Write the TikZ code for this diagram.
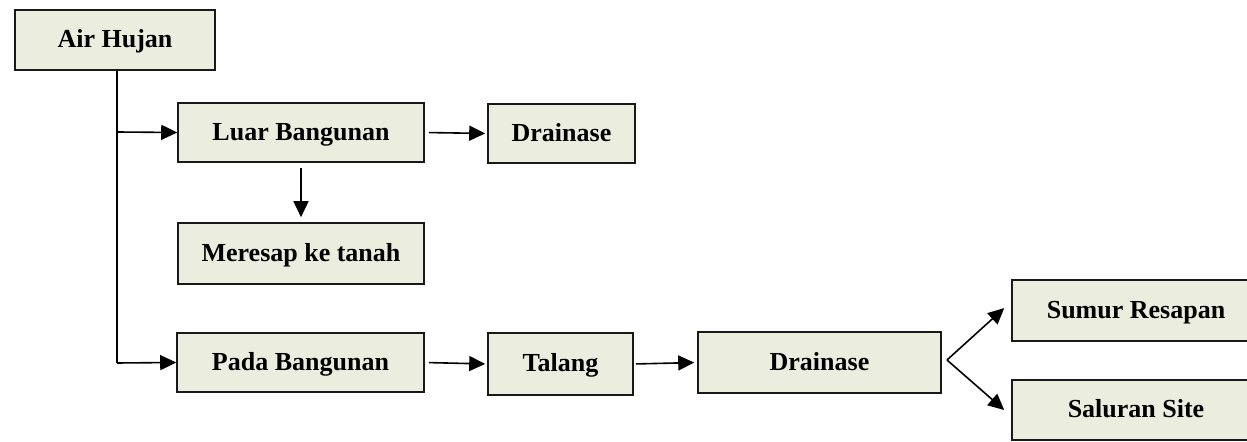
\documentclass[tikz,border=0pt]{standalone}
\usepackage{fontspec}
\setmainfont{Liberation Serif}
\usepackage{xcolor}
\usepackage{tikz}
\usetikzlibrary{arrows.meta}
\definecolor{isikotak}{RGB}{235,238,222}

\begin{document}
\begin{tikzpicture}[x=0.5pt,y=-0.5pt,
		kotak/.style={draw=black!90,fill=isikotak,line width=0.8pt,inner sep=0pt,
			text height=9pt,text depth=1pt,font=\bfseries\fontsize{13}{15}\selectfont},
		panah/.style={line width=0.8pt,-{Triangle[length=8pt,width=7.5pt]}}]
			\useasboundingbox (0,0) rectangle (1247,442);
			% Kotak
			\node[kotak,minimum width=100pt,minimum height=30pt] (hujan) at (115,40) {Air Hujan};
			\node[kotak,minimum width=123pt,minimum height=29.5pt] (luar) at (301,132.5) {Luar Bangunan};
			\node[kotak,minimum width=73.5pt,minimum height=29.5pt] (drainA) at (561.5,133.5) {Drainase};
			\node[kotak,minimum width=123pt,minimum height=30.5pt] (meresap) at (301,253.5) {Meresap ke tanah};
			\node[kotak,minimum width=123.5pt,minimum height=29.5pt] (pada) at (300.5,362.5) {Pada Bangunan};
			\node[kotak,minimum width=72.5pt,minimum height=31pt] (talang) at (560.5,364) {Talang};
			\node[kotak,minimum width=121.5pt,minimum height=30.5pt] (drainB) at (819.5,362.5) {Drainase};
			\node[kotak,minimum width=124pt,minimum height=30.5pt] (sumur) at (1136,310.5) {Sumur Resapan};
			\node[kotak,minimum width=124pt,minimum height=30pt] (saluran) at (1136,410) {Saluran Site};
			% Garis dan panah
			\coordinate (atas) at (117,132);
			\coordinate (cabang) at (117,363);
			\coordinate (pisah) at (947,360);
			\draw[line width=0.8pt] (hujan.south -| cabang) -- (cabang);
			\draw[panah] (atas) -- (luar.west);
			\draw[panah] (cabang) -- (pada.west);
			\draw[panah,shorten <=2pt,shorten >=1pt] (luar.east) -- (drainA.west);
			\draw[panah,shorten <=2.5pt,shorten >=2.5pt] (luar.south) -- (meresap.north);
			\draw[panah,shorten <=2pt,shorten >=1pt] (pada.east) -- (talang.west);
			\draw[panah,shorten <=1pt,shorten >=1.5pt] (talang.east) -- (drainB.west);
			\draw[panah] (pisah) -- ([xshift=-3.5pt,yshift=1.2pt]sumur.west);
			\draw[panah] (pisah) -- ([xshift=-3.5pt]saluran.west);
		\end{tikzpicture}
\end{document}
